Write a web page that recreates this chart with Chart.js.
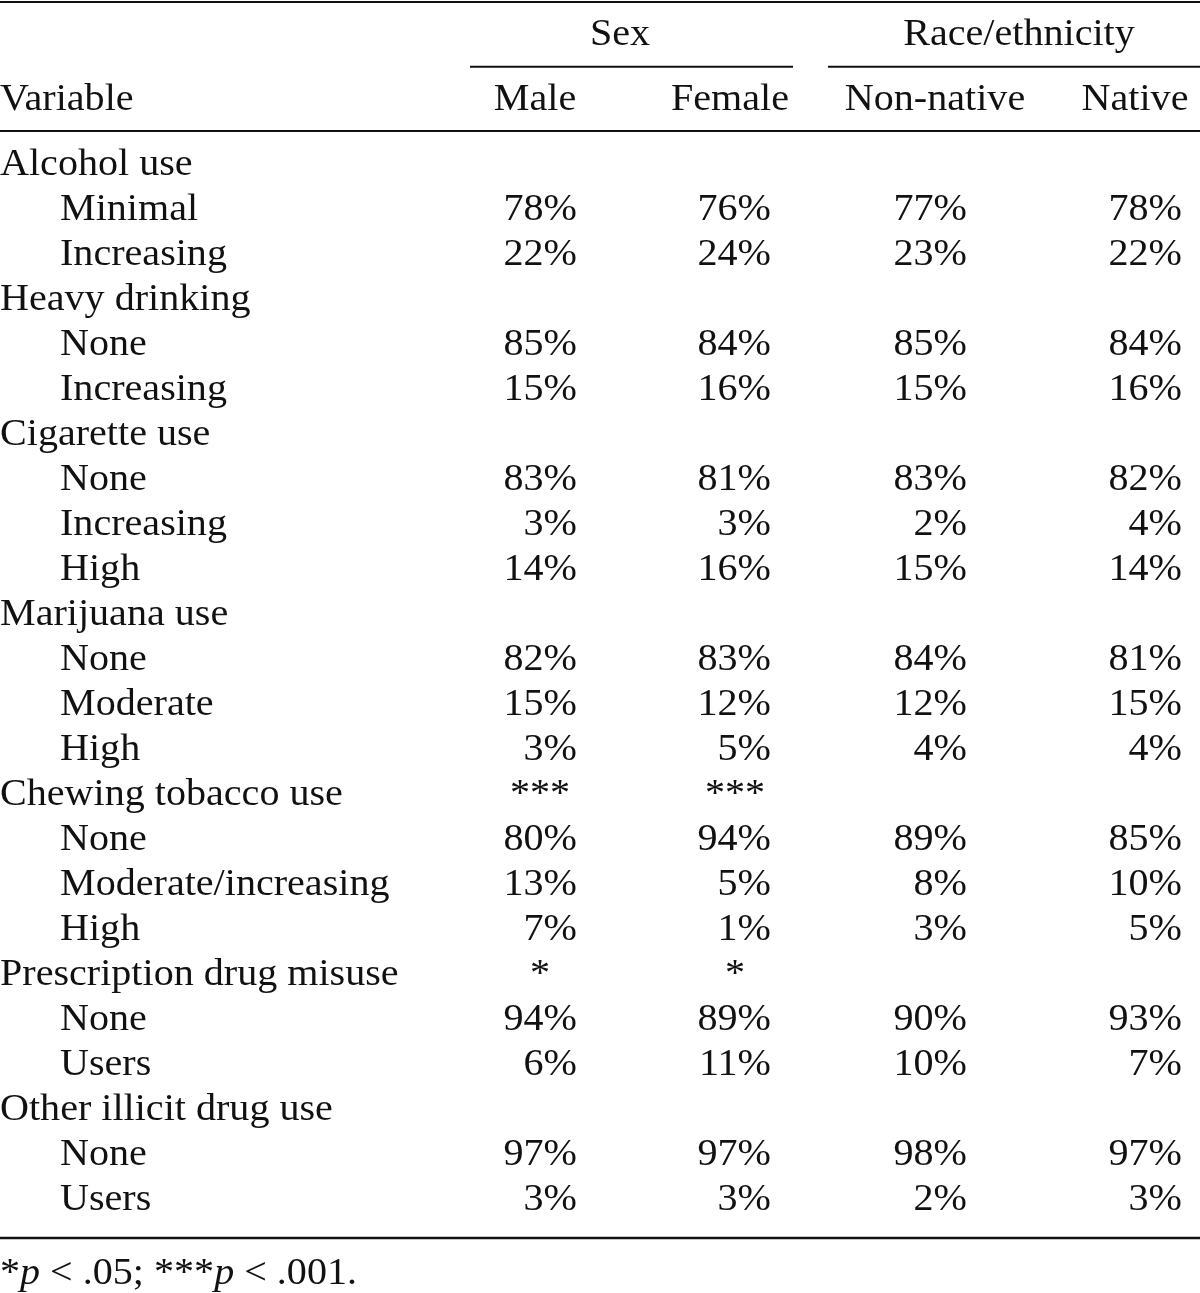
<!DOCTYPE html>
<html>
<head>
<meta charset="utf-8">
<script src="https://cdn.jsdelivr.net/npm/chart.js@4.4.1/dist/chart.umd.min.js"></script>
<style>
  html, body { margin: 0; padding: 0; background: #ffffff; }
  #wrap { width: 1200px; height: 1293px; position: relative; }
</style>
</head>
<body>
<div id="wrap"><canvas id="c" width="1200" height="1293"></canvas></div>
<script>
// ---------------- DATA ----------------
const groupLabels = ['Sex', 'Race/ethnicity'];
const columnLabels = ['Male', 'Female', 'Non-native', 'Native'];
const stubHeader = 'Variable';

// rows: variable headings (level 0) and their categories (level 1)
const rowLabels = [
  'Alcohol use', 'Minimal', 'Increasing',
  'Heavy drinking', 'None', 'Increasing',
  'Cigarette use', 'None', 'Increasing', 'High',
  'Marijuana use', 'None', 'Moderate', 'High',
  'Chewing tobacco use', 'None', 'Moderate/increasing', 'High',
  'Prescription drug misuse', 'None', 'Users',
  'Other illicit drug use', 'None', 'Users'
];
const rowLevel = [0,1,1, 0,1,1, 0,1,1,1, 0,1,1,1, 0,1,1,1, 0,1,1, 0,1,1];

// percentages (null = variable heading row)
const male      = [null,78,22, null,85,15, null,83,3,14, null,82,15,3, null,80,13,7, null,94,6, null,97,3];
const female    = [null,76,24, null,84,16, null,81,3,16, null,83,12,5, null,94,5,1,  null,89,11, null,97,3];
const nonNative = [null,77,23, null,85,15, null,83,2,15, null,84,12,4, null,89,8,3,  null,90,10, null,98,2];
const native    = [null,78,22, null,84,16, null,82,4,14, null,81,15,4, null,85,10,5, null,93,7, null,97,3];

// significance marks for sex differences (on the variable heading row)
const sexSignificance = ['', '', '', '', '', '', '', '', '', '', '', '', '', '', '***', '', '', '', '*', '', '', '', '', ''];

const footnoteParts = [
  { t: '*', italic: false }, { t: 'p', italic: true }, { t: ' < .05; ***', italic: false },
  { t: 'p', italic: true }, { t: ' < .001.', italic: false }
];

// ---------------- LAYOUT (styles, not data) ----------------
const FONT_FAMILY = '"Liberation Serif", "Times New Roman", serif';
const FONT_SIZE = 38;
const STRETCH = 1.055;
const INK = '#111111';
const colRight = [577, 771, 967, 1182];     // right edge of value columns (x-units)
const colHeadCenter = [535, 730, 935, 1135];
const markCenter = [540, 735];
const groupCenter = [620, 1019];
const groupRule = [[470, 793], [828, 1200]];
const indent = [0, 60];
// y-units: row index of baseline
const Y_GROUP = -2.889, Y_COLHEAD = -1.444, Y_FOOT = 24.644;
const RULE_TOP = -3.844, RULE_GROUP = -2.407, RULE_HEAD = -0.978, RULE_BOTTOM = 23.622;

const valueSeries = [male, female, nonNative, native];

const datasets = [];
datasets.push({
  label: stubHeader,
  data: rowLabels.map((lab, i) => ({ x: indent[rowLevel[i]], y: i, text: lab })),
  align: 'left',
  pointRadius: 0
});
valueSeries.forEach((series, c) => {
  const pts = [];
  series.forEach((v, i) => {
    if (v !== null) pts.push({ x: colRight[c], y: i, text: v + '%' });
  });
  datasets.push({ label: columnLabels[c], data: pts, align: 'right', pointRadius: 0 });
});
[0, 1].forEach(c => {
  const pts = [];
  sexSignificance.forEach((m, i) => { if (m) pts.push({ x: markCenter[c], y: i, text: m }); });
  datasets.push({ label: 'sig ' + columnLabels[c], data: pts, align: 'center', pointRadius: 0 });
});

function drawText(ctx, text, x, y, align) {
  const w = ctx.measureText(text).width * STRETCH;
  let left = x;
  if (align === 'right') left = x - w;
  else if (align === 'center') left = x - w / 2;
  ctx.save();
  ctx.translate(left, y);
  ctx.scale(STRETCH, 1);
  ctx.textAlign = 'left';
  ctx.fillText(text, 0, 0);
  ctx.restore();
  return w;
}

const tablePlugin = {
  id: 'tableText',
  afterDatasetsDraw(chart) {
    const ctx = chart.ctx;
    const xs = chart.scales.x, ys = chart.scales.y;
    const font = (it) => (it ? 'italic ' : '') + FONT_SIZE + 'px ' + FONT_FAMILY;
    ctx.save();
    ctx.fillStyle = INK;
    ctx.strokeStyle = INK;
    ctx.textBaseline = 'alphabetic';
    ctx.font = font(false);

    chart.data.datasets.forEach((ds, di) => {
      const meta = chart.getDatasetMeta(di);
      meta.data.forEach((el, j) => {
        drawText(ctx, ds.data[j].text, el.x, el.y, ds.align);
      });
    });

    groupLabels.forEach((g, k) => drawText(ctx, g, xs.getPixelForValue(groupCenter[k]), ys.getPixelForValue(Y_GROUP), 'center'));
    columnLabels.forEach((h, k) => drawText(ctx, h, xs.getPixelForValue(colHeadCenter[k]), ys.getPixelForValue(Y_COLHEAD), 'center'));
    drawText(ctx, stubHeader, xs.getPixelForValue(0), ys.getPixelForValue(Y_COLHEAD), 'left');

    const hline = (x0, x1, yv, w) => {
      const y = ys.getPixelForValue(yv);
      ctx.lineWidth = w;
      ctx.beginPath();
      ctx.moveTo(xs.getPixelForValue(x0), y);
      ctx.lineTo(xs.getPixelForValue(x1), y);
      ctx.stroke();
    };
    hline(0, 1200, RULE_TOP, 2);
    groupRule.forEach(r => hline(r[0], r[1], RULE_GROUP, 2));
    hline(0, 1200, RULE_HEAD, 2);
    hline(0, 1200, RULE_BOTTOM, 2.5);

    let fx = xs.getPixelForValue(0);
    const fy = ys.getPixelForValue(Y_FOOT);
    footnoteParts.forEach(p => {
      ctx.font = font(p.italic);
      fx += drawText(ctx, p.t, fx, fy, 'left');
    });
    ctx.restore();
  }
};

new Chart(document.getElementById('c'), {
  type: 'scatter',
  data: { datasets },
  options: {
    responsive: false,
    animation: false,
    events: [],
    layout: { padding: 0 },
    plugins: { legend: { display: false }, tooltip: { enabled: false } },
    scales: {
      x: { type: 'linear', display: false, min: 0, max: 1200 },
      y: { type: 'linear', display: false, reverse: true, min: -175 / 45, max: (1293 - 175) / 45 }
    }
  },
  plugins: [tablePlugin]
});
</script>
</body>
</html>
